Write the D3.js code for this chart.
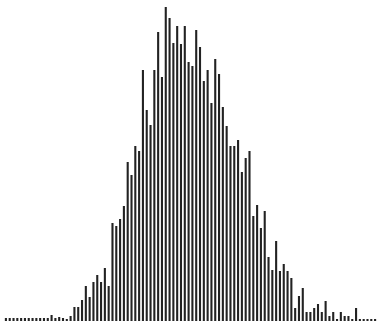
<!DOCTYPE html>
<html>
<head>
<meta charset="utf-8">
<script src="https://cdn.jsdelivr.net/npm/d3@7"></script>
<style>
  html, body { margin: 0; padding: 0; background: #fff; }
  svg { display: block; }
</style>
</head>
<body>
<svg class="hist"></svg>
<script>
// histogram counts, one per bin, left to right
var leftTail = [3, 3, 3, 3, 3, 3, 3, 3, 3, 3, 3, 3, 6, 3, 4, 3];
var body = [2, 5, 14, 14, 21, 35, 24, 39, 46, 39, 53, 35,
  98, 95, 102, 115, 159, 146, 175, 170, 251, 211, 196, 251,
  289, 244, 314, 303, 278, 295, 277, 295, 259, 255, 291, 274,
  240, 251, 218, 262, 247, 214, 195, 175, 175, 181, 149, 163,
  170, 105, 116, 93, 110, 64, 51, 80, 50, 57, 50, 43,
  13, 25, 33, 9, 9, 13, 17, 9, 20, 5, 9, 2,
  9, 5, 5, 2, 13];
var rightTail = [2, 2, 2, 2, 2];

var counts = leftTail.concat(body, rightTail);
var bins = counts.map(function(d, i) { return i; });

var width = 378, height = 322;
var baseline = 321;

var svg = d3.select(".hist")
  .attr("width", width)
  .attr("height", height);

var xScale = d3.scaleBand()
  .domain(bins)
  .range([4.1, 376.9])
  .paddingInner(0.45)
  .paddingOuter(0.2);

var yScale = d3.scaleLinear()
  .domain([0, 320])
  .range([baseline, 1]);

svg.selectAll(".bar")
  .data(counts)
  .enter()
  .append("rect")
  .classed("bar", true)
  .attr("x", function(d, i) { return xScale(bins[i]); })
  .attr("y", function(d) { return yScale(d); })
  .attr("width", xScale.bandwidth())
  .attr("height", function(d) { return yScale(0) - yScale(d); })
  .style("fill", "#222");
</script>
</body>
</html>
